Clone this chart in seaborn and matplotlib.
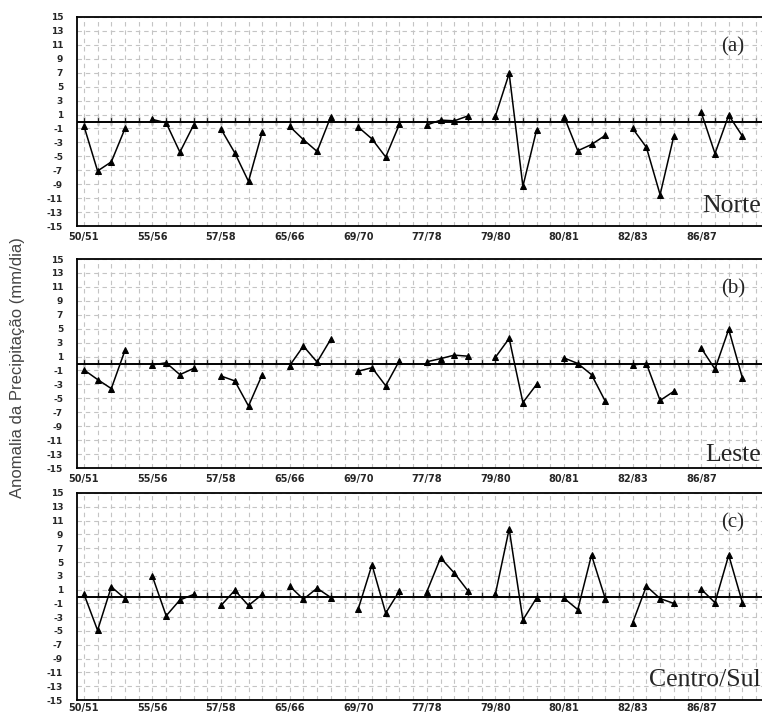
import numpy as np
import pandas as pd
import matplotlib
matplotlib.use("Agg")
import matplotlib.pyplot as plt
import seaborn as sns
from matplotlib.ticker import FixedLocator, MultipleLocator

# ---------------- data ----------------
periods = ["50/51", "55/56", "57/58", "65/66", "69/70",
           "77/78", "79/80", "80/81", "82/83", "86/87"]
months_per_period = 4

norte = [-0.6, -7.1, -5.8, -1.0,
         0.3, -0.2, -4.4, -0.5,
         -1.1, -4.5, -8.6, -1.5,
         -0.7, -2.6, -4.3, 0.7,
         -0.8, -2.5, -5.1, -0.4,
         -0.5, 0.2, 0.1, 0.8,
         0.8, 6.9, -9.3, -1.2,
         0.7, -4.2, -3.3, -2.0,
         -1.0, -3.7, -10.5, -2.1,
         1.3, -4.6, 0.9, -2.1]

leste = [-0.9, -2.3, -3.6, 1.9,
         -0.2, 0.1, -1.6, -0.7,
         -1.8, -2.5, -6.1, -1.6,
         -0.3, 2.5, 0.2, 3.5,
         -1.1, -0.6, -3.2, 0.4,
         0.25, 0.7, 1.2, 1.05,
         0.9, 3.6, -5.6, -3.0,
         0.8, 0.0, -1.6, -5.4,
         -0.2, 0.0, -5.3, -4.0,
         2.2, -0.8, 4.9, -2.1]

centro_sul = [0.4, -4.9, 1.4, -0.3,
              2.9, -2.8, -0.5, 0.3,
              -1.3, 0.9, -1.3, 0.3,
              1.5, -0.4, 1.2, -0.15,
              -1.8, 4.6, -2.4, 0.8,
              0.7, 5.6, 3.4, 0.8,
              0.4, 9.8, -3.4, -0.2,
              -0.25, -1.9, 6.0, -0.3,
              -3.8, 1.5, -0.3, -1.0,
              1.05, -0.9, 6.0, -0.9]

y_tick_values = [15, 13, 11, 9, 7, 5, 3, 1, -1, -3, -5, -7, -9, -11, -13, -15]
panel_tags = ["(a)", "(b)", "(c)"]
region_names = ["Norte", "Leste", "Centro/Sul"]
series = [norte, leste, centro_sul]
y_label = "Anomalia da Precipitação (mm/dia)"

# ---------------- figure ----------------
sns.set_style("white")
plt.rcParams["font.family"] = ["DejaVu Sans"]

W, H = 762, 716
fig = plt.figure(figsize=(W / 100, H / 100), dpi=100)

slot = 5  # 4 months + 1 gap per period
n_slots = slot * len(periods) - 1

# panel pixel boxes (top, bottom)
boxes = [(17, 226), (259, 468), (493, 700)]
left_px, right_px = 77, 763

grid_kw = dict(color="#c4c4c4", linestyle=(0, (4, 3.5)), linewidth=0.8)

for i, (vals, (tp, bt)) in enumerate(zip(series, boxes)):
    ax = fig.add_axes([left_px / W, 1 - bt / H, (right_px - left_px) / W, (bt - tp) / H])
    grp = np.repeat(np.arange(len(periods)), months_per_period)
    mon = np.tile(np.arange(months_per_period), len(periods))
    df = pd.DataFrame({"x": grp * slot + mon, "y": vals, "g": grp})
    sns.lineplot(data=df, x="x", y="y", units="g", estimator=None,
                 color="black", linewidth=1.1, marker="^", markersize=4.5,
                 markeredgecolor="black", ax=ax, legend=False)

    ax.set_xlim(-0.5, n_slots + 0.5)
    ax.set_ylim(-15, 15)
    ax.set_xlabel("")
    ax.set_ylabel("")

    # y ticks
    ax.yaxis.set_major_locator(FixedLocator(y_tick_values))
    ax.yaxis.set_minor_locator(FixedLocator(list(range(-14, 15, 2))))
    ax.set_yticklabels([str(v) for v in y_tick_values], fontsize=6.5, fontweight="bold")
    ax.tick_params(axis="y", which="major", direction="inout", length=8, width=1.0, pad=6)
    ax.tick_params(axis="y", which="minor", direction="inout", length=5, width=1.0)

    # x ticks: period labels at group starts
    ax.set_xticks([k * slot for k in range(len(periods))])
    ax.set_xticklabels(periods, fontsize=7, fontweight="bold")
    ax.xaxis.set_minor_locator(MultipleLocator(1))
    ax.tick_params(axis="x", which="both", length=0, pad=4 if i < 2 else 2.5)

    # grid
    ax.grid(axis="x", which="both", **grid_kw)
    ax.grid(axis="y", which="major", **grid_kw)
    ax.set_axisbelow(True)

    for s in ["left", "top", "bottom"]:
        ax.spines[s].set_color("black")
        ax.spines[s].set_linewidth(1.3)
    ax.spines["right"].set_visible(False)

    # zero line with tick marks at each slot
    ax.axhline(0, color="black", linewidth=1.4, zorder=1.5)
    sec = ax.secondary_xaxis(0.5)
    sec.set_xticks(range(0, n_slots + 1))
    sec.tick_params(axis="x", which="both", direction="inout", length=6, width=1.0,
                    labeltop=False, labelbottom=False)
    for s in sec.spines.values():
        s.set_visible(False)

    ax.text(0.956, 0.855, panel_tags[i], transform=ax.transAxes,
            ha="center", va="center", fontsize=15, family="Liberation Serif")
    ax.text(0.997, 0.045 if i != 1 else 0.01, region_names[i], transform=ax.transAxes,
            ha="right", va="bottom", fontsize=18.5, family="Liberation Serif")

fig.text(18 / W, 1 - 368 / H, y_label, rotation=90, ha="center", va="center",
         fontsize=12, color="#444444", family="Liberation Sans")

fig.savefig("out.png", dpi=100)
